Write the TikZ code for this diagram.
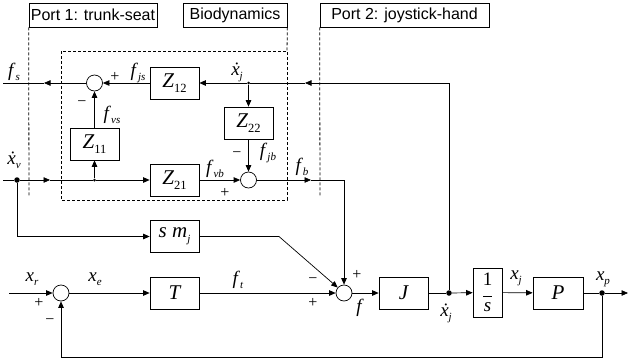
\documentclass[tikz,border=0pt]{standalone}
\usepackage{fontspec}
\setmainfont{Liberation Serif}
\newfontfamily\portfont{Liberation Sans}
\usetikzlibrary{arrows.meta}

% signal label: italic letter with a lowered italic subscript
\newcommand{\sig}[2]{\textit{#1}\raisebox{-0.45ex}{\fontsize{11}{11}\selectfont\textit{#2}}}
% block name: italic Z with an upright index
\newcommand{\zname}[1]{\textit{Z}\raisebox{-0.55ex}{\fontsize{12.5}{12.5}\selectfont\upshape #1}}

\begin{document}
\begin{tikzpicture}[x=1pt,y=-1pt,line width=0.7pt,
  >={Triangle[length=6.5pt,width=5.5pt]},
  block/.style={draw,minimum width=49pt,minimum height=32pt,inner sep=0pt,
    font=\fontsize{21}{21}\selectfont\itshape},
  sumc/.style={draw,circle,minimum size=16pt,inner sep=0pt,fill=white},
  bigdot/.style={circle,fill,minimum size=5.5pt,inner sep=0pt},
  smalldot/.style={circle,fill,minimum size=3pt,inner sep=0pt},
  portbox/.style={draw,minimum height=24pt,inner sep=0pt,
    font=\portfont\fontsize{16}{16}\selectfont},
  lbl/.style={inner sep=0pt,font=\fontsize{19}{19}\selectfont},
  sgn/.style={inner sep=0pt,font=\fontsize{16}{16}\selectfont},
  bound/.style={dash pattern=on 3pt off 2pt,line width=0.8pt}]
\useasboundingbox (0,0) rectangle (629,362);

% ---- port and subsystem headings ----
\node[portbox,minimum width=128pt] (port1) at (93,15) {Port 1: trunk-seat};
\node[portbox,minimum width=104pt] (bio) at (235,15) {Biodynamics};
\node[portbox,minimum width=169pt] (port2) at (404.5,15) {Port 2: joystick-hand};

\coordinate (p1end) at (29,197);
\coordinate (bioend) at (287,51);
\coordinate (p2end) at (320,197);
\draw[bound] (port1.south west) -- (p1end);
\draw[bound] (bio.south east) -- (bioend);
\draw[bound] (port2.south west) -- (p2end);
\draw[bound] (61,51) rectangle (287,200);

% ---- biodynamic impedance blocks ----
\node[block] (Z12) at (174.5,83) {\zname{12}};
\node[block] (Z22) at (248.5,123) {\zname{22}};
\node[block] (Z11) at (94.5,144) {\zname{11}};
\node[block] (Z21) at (174.5,180) {\zname{21}};
\node[sumc] (c1) at (94.5,83) {};
\node[sumc] (c2) at (248.5,180) {};
\node[smalldot] (j2) at (248.5,83) {};
\node[smalldot] (jv) at (94.5,180) {};
\node[bigdot] (dv) at (17,180) {};

% ---- main loop blocks ----
\node[block] (smj) at (174.5,236.5) {\textit{s m}\raisebox{-0.5ex}{\fontsize{11}{11}\selectfont\textit{j}}};
\node[block] (T) at (174.5,293) {\textit{T}};
\node[block] (J) at (403.5,293) {\textit{J}};
\node[draw,minimum width=29pt,minimum height=49pt,inner sep=0pt,align=center,
  font=\fontsize{19}{19}\selectfont] (integ) at (487.5,292.5)
  {1\\[-8pt]\rule{9pt}{0.6pt}\\[-4pt]\textit{s}};
\node[block,minimum width=50pt] (P) at (558,293) {\textit{P}};
\node[sumc] (c0) at (61,293) {};
\node[sumc] (c3) at (344,293) {};
\node[bigdot] (dj) at (449,293) {};
\node[bigdot] (dp) at (602,293) {};

% ---- free line ends and bends ----
\coordinate (fsend) at (3,83);
\coordinate (fsarr) at (44,83);
\coordinate (vstart) at (3,180);
\coordinate (varr) at (50,180);
\coordinate (fbarr) at (311,180);
\coordinate (fbcorner) at (344,180);
\coordinate (jtop) at (449,83);
\coordinate (jarr) at (305,83);
\coordinate (smjcorner) at (17,236.5);
\coordinate (smjbend) at (279,236.5);
\coordinate (xrstart) at (9,293);
\coordinate (xpend) at (628,293);
\coordinate (fb1) at (602,357);
\coordinate (fb2) at (61,357);

% ---- top path: joystick velocity to seat force ----
\draw (dj) -- (jtop);
\draw[->] (jtop) -- (jarr);
\draw (jarr) -- (j2);
\draw[->] (j2) -- (Z12);
\draw[->] (Z12) -- (c1);
\draw[->] (c1) -- (fsarr);
\draw (fsarr) -- (fsend);
\draw[->] (j2) -- (Z22);
\draw[->] (Z22) -- (c2);
\draw[->] (Z11) -- (c1);
\draw[->] (jv) -- (Z11);

% ---- bottom path: seat velocity to hand force ----
\draw (vstart) -- (dv);
\draw[->] (dv) -- (varr);
\draw (varr) -- (jv);
\draw[->] (jv) -- (Z21);
\draw[->] (Z21) -- (c2);
\draw[->] (c2) -- (fbarr);
\draw (fbarr) -- (fbcorner);
\draw[->] (fbcorner) -- (c3);

% ---- inertial feed-forward ----
\draw (dv) -- (smjcorner);
\draw[->] (smjcorner) -- (smj);
\draw (smj) -- (smjbend);
\draw[->] (smjbend) -- (c3);

% ---- control loop ----
\draw[->] (xrstart) -- (c0);
\draw[->] (c0) -- (T);
\draw[->] (T) -- (c3);
\draw[->] (c3) -- (J);
\draw (J) -- (dj);
\draw[->] (dj) -- (integ);
\draw[->] (integ) -- (P);
\draw (P) -- (dp);
\draw[->] (dp) -- (xpend);
\draw (dp) -- (fb1) -- (fb2);
\draw[->] (fb2) -- (c0);

% ---- signal labels ----
\node[lbl] (lfs) at (14,72) {\sig{f}{s}};
\node[lbl] (lfjs) at (138,73) {\sig{f}{js}};
\node[lbl] (lxj1) at (237,72) {\sig{\.{x}}{j}};
\node[lbl] (lfvs) at (112,115) {\sig{f}{vs}};
\node[lbl] (lfjb) at (268,153) {\sig{f}{jb}};
\node[lbl] (lxv) at (14,160) {\sig{\.{x}}{v}};
\node[lbl] (lfvb) at (215,169) {\sig{f}{vb}};
\node[lbl] (lfb) at (302,167) {\sig{f}{b}};
\node[lbl] (lxr) at (32,279) {\sig{x}{r}};
\node[lbl] (lxe) at (95,279) {\sig{x}{e}};
\node[lbl] (lft) at (238,280) {\sig{f}{t}};
\node[lbl] (lf) at (360,308) {\textit{f}};
\node[lbl] (lxj2) at (446,313) {\sig{\.{x}}{j}};
\node[lbl] (lxj3) at (516,278) {\sig{x}{j}};
\node[lbl] (lxp) at (603,279) {\sig{x}{p}};

% ---- summing signs ----
\node[sgn] (s1) at (115,77) {+};
\node[sgn] (s2) at (82,104) {−};
\node[sgn] (s3) at (237,155) {−};
\node[sgn] (s4) at (225,193) {+};
\node[sgn] (s5) at (39,303) {+};
\node[sgn] (s6) at (50,322) {−};
\node[sgn] (s7) at (313,281) {−};
\node[sgn] (s8) at (313,303) {+};
\node[sgn] (s9) at (357,275) {+};
\end{tikzpicture}
\end{document}
